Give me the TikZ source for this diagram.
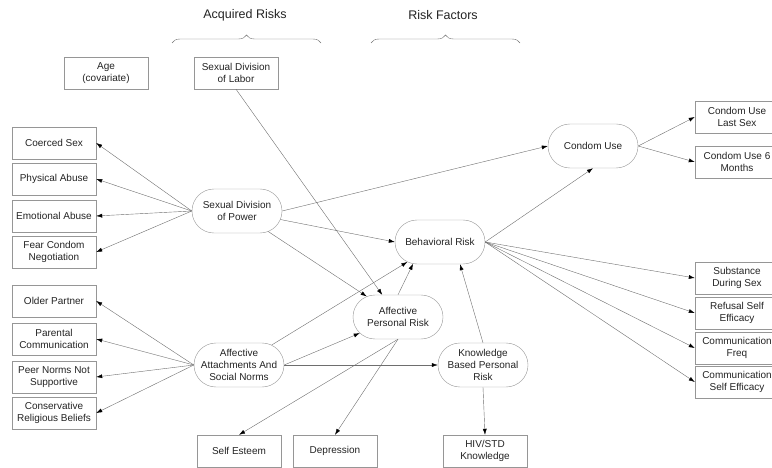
\documentclass[tikz,border=0pt]{standalone}
\usepackage{fontspec}
\setmainfont{Liberation Sans}
\usetikzlibrary{arrows.meta,shapes.misc,decorations.pathreplacing}
\definecolor{linegray}{RGB}{110,110,110}
\definecolor{framegray}{RGB}{150,150,150}
\definecolor{textgray}{RGB}{35,35,35}
\begin{document}
\begin{tikzpicture}[x=1pt,y=-1pt,
    box/.style={draw=framegray,rectangle,minimum width=84pt,minimum height=32pt,
      inner sep=1pt,align=center,text=textgray,font=\fontsize{10}{12}\selectfont},
    oval/.style={draw=framegray,rounded rectangle,minimum width=92pt,minimum height=44pt,
      inner sep=1pt,align=center,text=textgray,font=\fontsize{10}{12}\selectfont},
    title/.style={text=textgray,font=\fontsize{12.5}{14}\selectfont},
    brace/.style={draw=linegray,decorate,decoration={brace,amplitude=8pt}}]
      \clip (0,0) rectangle (772,468);
      \draw
        (245,15) node[title] (acq){Acquired Risks}
        (443,15) node[title] (fac){Risk Factors};
      \draw[brace] (172,43) -- (321,43);
      \draw[brace] (371,43) -- (520,43);
      \draw
        (106,73) node[box] (age){Age\\(covariate)}
        (236,73) node[box] (labor){Sexual Division\\of Labor}
        (54,143) node[box] (coerced){Coerced Sex}
        (54,179) node[box] (physical){Physical Abuse}
        (54,216) node[box] (emotional){Emotional Abuse}
        (54,252) node[box] (fear){Fear Condom\\Negotiation}
        (54,301) node[box] (older){Older Partner}
        (54,339) node[box] (parental){Parental\\Communication}
        (54,377) node[box] (peer){Peer Norms Not\\Supportive}
        (54,413) node[box] (religious){Conservative\\Religious Beliefs}
        (239,451) node[box] (esteem){Self Esteem}
        (335,451) node[box] (depression){Depression}
        (485,451) node[box] (hiv){HIV/STD\\Knowledge}
        (737,117) node[box] (lastsex){Condom Use\\Last Sex}
        (737,162) node[box] (sixmonths){Condom Use 6\\Months}
        (737,278) node[box] (substance){Substance\\During Sex}
        (737,313) node[box] (refusal){Refusal Self\\Efficacy}
        (737,348) node[box] (commfreq){Communication\\Freq}
        (737,382) node[box] (commeff){Communication\\Self Efficacy};
      \draw
        (237,211) node[oval] (power){Sexual Division\\of Power}
        (239,365) node[oval] (attach){Affective\\Attachments And\\Social Norms}
        (398,317) node[oval] (affective){Affective\\Personal Risk}
        (440,242) node[oval] (behavioral){Behavioral Risk}
        (483,365) node[oval] (knowledge){Knowledge\\Based Personal\\Risk}
        (593,146) node[oval] (condom){Condom Use};
      \begin{scope}[draw=linegray,line width=0.4pt,-{Latex[length=6pt,width=4pt,color=black]}]
        \draw (power.west) to (coerced.east);
        \draw (power.west) to (physical.east);
        \draw (power.west) to (emotional.east);
        \draw (power.west) to (fear.east);
        \draw (power.east) to (condom.west);
        \draw (power) to (behavioral.west);
        \draw (power) to (affective);
        \draw (labor.south) to (affective);
        \draw (attach.west) to (older.east);
        \draw (attach.west) to (parental.east);
        \draw (attach.west) to (peer.east);
        \draw (attach.west) to (religious.east);
        \draw (attach) to (behavioral);
        \draw (attach.east) to (affective);
        \draw (attach.east) to (knowledge.west);
        \draw (affective.north) to (behavioral.219);
        \draw (affective.south) to (esteem.north);
        \draw (affective.south) to (depression.north);
        \draw (knowledge.north) to (behavioral.-48);
        \draw (knowledge.south) to (hiv.north);
        \draw (behavioral.east) to (condom.south);
        \draw (behavioral.east) to (substance.west);
        \draw (behavioral.east) to (refusal.west);
        \draw (behavioral.east) to (commfreq.west);
        \draw (behavioral.east) to (commeff.west);
        \draw (condom.east) to (lastsex.west);
        \draw (condom.east) to (sixmonths.west);
      \end{scope}
    \end{tikzpicture}
\end{document}
